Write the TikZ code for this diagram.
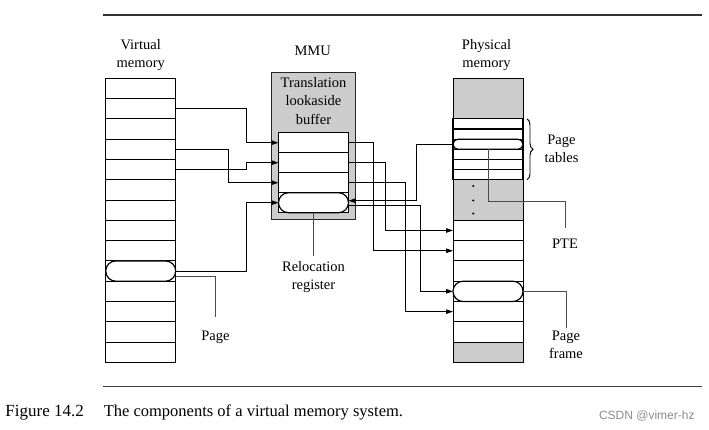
\documentclass[tikz,border=0pt]{standalone}
\usepackage{fontspec}
\setmainfont{Liberation Serif}
\newfontfamily\wmfont{Liberation Sans}
\usetikzlibrary{arrows.meta,positioning,shapes.misc,decorations.pathreplacing}

\begin{document}
\begin{tikzpicture}[x=1pt,y=-1pt,line width=0.95pt,font=\fontsize{14.5}{18.3}\selectfont]
  \tikzstyle{cell}=[rectangle,draw,minimum width=70pt,minimum height=20.29pt,inner sep=0pt,outer sep=0pt]
  \tikzstyle{half}=[cell,minimum height=10.145pt,line width=1.2pt]
  \tikzstyle{shade}=[cell,fill=black!20,minimum height=40.58pt]
  \tikzstyle{slot}=[rounded rectangle,draw,fill=white,line width=1.2pt,minimum width=70pt,minimum height=20.29pt,inner sep=0pt,outer sep=0pt]
  \tikzstyle{note}=[align=center,inner sep=0pt,anchor=north]
  \tikzstyle{arr}=[-{Stealth[length=7pt,width=4.5pt,inset=0pt]}]
  \tikzstyle{lead}=[draw=black!70]
  \useasboundingbox (0,0) rectangle (709,430);

  % rules
  \draw[line width=1.1pt,black!80] (103.3,15) -- (701.7,15);
  \draw[line width=1pt,black!75] (103.3,386.7) -- (701.7,386.7);

  % virtual memory
  \node[align=center] (vtitle) at (140.7,55) {Virtual\\memory};
  \node[cell] (v0) at (140.7,88.45) {};
  \foreach \i [count=\j from 0] in {1,...,13}
    \node[cell,below=0pt of v\j] (v\i) {};
  \node[slot] (page) at (v9) {};

  % MMU
  \node[draw=black!85,fill=black!20,minimum width=84pt,minimum height=146.6pt,inner sep=0pt] (mmu) at (313.7,146) {};
  \node (mmutitle) at (312.7,50.7) {MMU};
  \node[align=center] (tlbtitle) at (313.5,101) {Translation\\lookaside\\buffer};
  \node[cell,fill=white,minimum height=20pt] (t0) at (313.5,142.7) {};
  \foreach \i [count=\j from 0] in {1,2,3}
    \node[cell,fill=white,minimum height=20pt,below=0pt of t\j] (t\i) {};
  \node[slot,minimum height=20pt] (reloc) at (t3) {};

  % physical memory
  \node[align=center] (ptitle) at (486.5,55) {Physical\\memory};
  \node[shade] (ptop) at (488,98.6) {};
  \node[half,below=0pt of ptop] (pt0) {};
  \foreach \i [count=\j from 0] in {1,...,5}
    \node[half,below=0pt of pt\j] (pt\i) {};
  \node[shade,below=0pt of pt5] (pmid) {};
  \node[cell,below=0pt of pmid] (f0) {};
  \foreach \i [count=\j from 0] in {1,...,5}
    \node[cell,below=0pt of f\j] (f\i) {};
  \node[shade,minimum height=20.29pt,below=0pt of f5] (pbot) {};
  \node[slot,minimum height=10.145pt] (pte) at (pt2) {};
  \node[slot] (frame) at (f3) {};
  \foreach \y in {186,200.5,213.5}
    \fill (473.3,\y) circle (1.1pt);

  % virtual -> TLB
  \draw[arr] (v1.east) -- ++(70.3,0) |- (t0.west);
  \draw[arr] (v4.east) -- ++(70.3,0) |- (t1.west);
  \draw[arr] (v3.east) -- ++(52.6,0) |- (t2.west);
  \draw[arr] (page.east) -- ++(70.3,0) |- (reloc.west);

  % TLB -> physical
  \draw[arr] (t0.east) -- ++(25,0) |- (f1.west);
  \draw[arr] (t1.east) -- ++(37.2,0) |- (f0.west);
  \draw[arr] (t2.east) -- ++(56.5,0) |- (f4.west);
  \draw[arr] ([yshift=-2.3pt]reloc.east) -- ++(72,0) |- (frame.west);
  \draw[arr] (pte.west) -- ++(-37,0) |- ([yshift=2pt]reloc.east);

  % labels
  \node[note] (pagenote) at (215.5,331) {Page};
  \node[note] (relocnote) at (313.5,261) {Relocation\\register};
  \node[note] (ptenote) at (565,239) {PTE};
  \node[note] (framenote) at (566,330.5) {Page\\frame};
  \node[align=center] (tablenote) at (561.5,148.5) {Page\\tables};
  \draw[lead] ([yshift=-5.5pt]page.east) -| ([yshift=13.7pt]pagenote.north);
  \draw[lead] (reloc.south) -- ([yshift=5pt]relocnote.north);
  \draw[lead] (pte.south) -- ++(0,52.6) -| ([yshift=10.7pt]ptenote.north);
  \draw[lead] (frame.east) -| ([yshift=2.5pt]framenote.north);
  \draw[decorate,decoration={brace,amplitude=6pt}] ([xshift=4pt]pt0.north east) -- ([xshift=4pt]pt5.south east);

  % caption
  \node[anchor=base west,inner sep=0pt,font=\fontsize{17}{20}\selectfont] (fignum) at (5,416.7) {Figure 14.2};
  \node[anchor=base west,inner sep=0pt,font=\fontsize{16.5}{20}\selectfont] (figtext) at (103.3,416.7) {The components of a virtual memory system.};
  \node[anchor=base east,inner sep=0pt,text=black!45,font=\wmfont\fontsize{12}{14}\selectfont] (mark) at (695,419) {CSDN @vimer-hz};
\end{tikzpicture}
\end{document}
